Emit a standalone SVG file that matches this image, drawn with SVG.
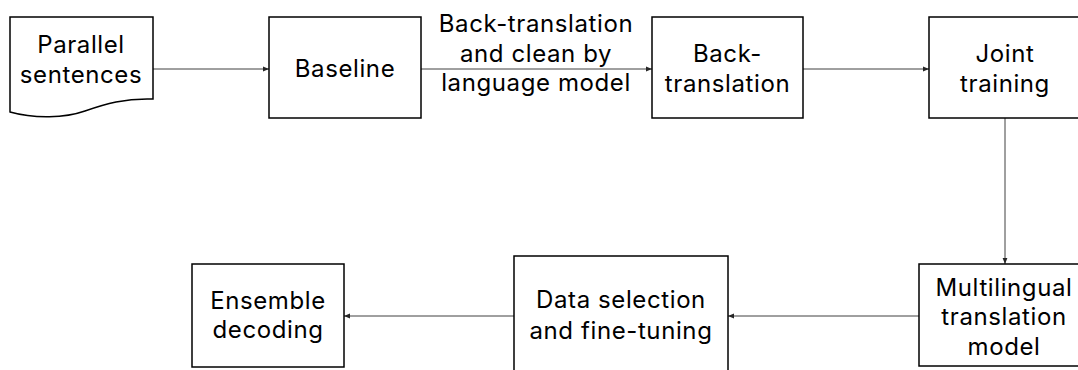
<svg xmlns="http://www.w3.org/2000/svg" width="1078" height="370" viewBox="0 0 1078 370">
<defs>
<marker id="ah" viewBox="0 0 10 10" refX="10" refY="5" markerWidth="6" markerHeight="6" markerUnits="userSpaceOnUse" orient="auto">
<path d="M0,1 L10,5 L0,9 Z" fill="#262626"/>
</marker>
<style>
.box{fill:#fff;stroke:#000;stroke-width:1.5}
.t{font-family:Inter,"Open Sans",sans-serif;font-size:24px;letter-spacing:0.6px;fill:#000;text-anchor:middle}
.c{fill:none;stroke:#404040;stroke-width:1;marker-end:url(#ah)}
</style>
</defs>
<rect width="1078" height="370" fill="#fff"/>
<g id="connectors">
<line class="c" x1="153" y1="69" x2="269" y2="69"/>
<line class="c" x1="421" y1="69" x2="652" y2="69"/>
<line class="c" x1="803" y1="69" x2="929" y2="69"/>
<line class="c" x1="1005" y1="118" x2="1005" y2="264"/>
<line class="c" x1="919" y1="316" x2="728" y2="316"/>
<line class="c" x1="514" y1="316" x2="344" y2="316"/>
<text class="t" x="536" y="32">Back-translation</text>
<text class="t" x="536" y="61.5">and clean by</text>
<text class="t" x="536" y="91">language model</text>
</g>
<g id="parallel">
<path class="box" d="M10,17 H153 V99 C125,98 105,104 85,111 C65,118 35,119 10,112 Z"/>
<text class="t" x="81" y="53">Parallel</text>
<text class="t" x="81" y="83">sentences</text>
</g>
<g id="baseline">
<rect class="box" x="269" y="17" width="152" height="101"/>
<text class="t" x="345" y="77">Baseline</text>
</g>
<g id="backtranslation">
<rect class="box" x="652" y="17" width="151" height="101"/>
<text class="t" x="727.5" y="62">Back-</text>
<text class="t" x="727.5" y="92">translation</text>
</g>
<g id="joint">
<rect class="box" x="929" y="17" width="155" height="101"/>
<text class="t" x="1005" y="62">Joint</text>
<text class="t" x="1005" y="92">training</text>
</g>
<g id="multilingual">
<rect class="box" x="919" y="264" width="170" height="102"/>
<text class="t" x="1004" y="295.5">Multilingual</text>
<text class="t" x="1004" y="325">translation</text>
<text class="t" x="1004" y="354.5">model</text>
</g>
<g id="dataselection">
<rect class="box" x="514" y="256" width="214" height="130"/>
<text class="t" x="621" y="308">Data selection</text>
<text class="t" x="621" y="339">and fine-tuning</text>
</g>
<g id="ensemble">
<rect class="box" x="192" y="264" width="152" height="103"/>
<text class="t" x="268" y="308.5">Ensemble</text>
<text class="t" x="268" y="338">decoding</text>
</g>
</svg>
